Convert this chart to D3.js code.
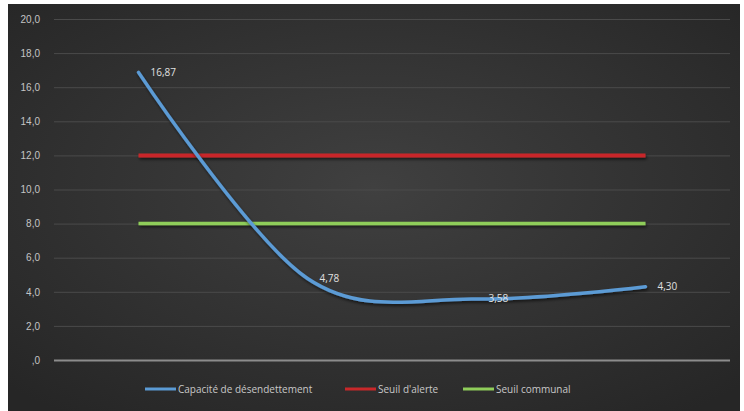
<!DOCTYPE html>
<html>
<head>
<meta charset="utf-8">
<script src="https://cdn.jsdelivr.net/npm/d3@7"></script>
<style>
  body { margin: 0; background: #fff; }
  svg { display: block; font-family: "Open Sans", "Liberation Sans", sans-serif; }
</style>
</head>
<body>
<svg id="chart" width="744" height="411"></svg>
<script>
const categories = ["Année 1", "Année 2", "Année 3", "Année 4"];
const capacite = [16.87, 4.78, 3.58, 4.30];
const seuilAlerte = [12, 12, 12, 12];
const seuilCommunal = [8, 8, 8, 8];
const yTicks = [0, 2, 4, 6, 8, 10, 12, 14, 16, 18, 20];
const seriesNames = ["Capacité de désendettement", "Seuil d'alerte", "Seuil communal"];
const seriesColors = ["#5b9bd5", "#c8282a", "#8fcd5a"];

const svg = d3.select("#chart");
const width = +svg.attr("width");
const height = +svg.attr("height");

// background
const defs = svg.append("defs");
const grad = defs.append("radialGradient")
    .attr("id", "bg")
    .attr("cx", "50%").attr("cy", "45%").attr("r", "70%");
grad.append("stop").attr("offset", "0%").attr("stop-color", "#404040");
grad.append("stop").attr("offset", "100%").attr("stop-color", "#262626");

// user space region so the flat lines keep their shadow
const shadow = defs.append("filter").attr("id", "shadow")
    .attr("filterUnits", "userSpaceOnUse")
    .attr("x", 0).attr("y", 0).attr("width", width).attr("height", height);
shadow.append("feDropShadow")
    .attr("dx", 1).attr("dy", 2).attr("stdDeviation", 1.5)
    .attr("flood-color", "#000").attr("flood-opacity", 0.6);

svg.append("rect")
    .attr("x", 8).attr("y", 4)
    .attr("width", width - 12).attr("height", height - 4)
    .attr("fill", "url(#bg)");

const margin = { top: 19, right: 14, bottom: 51, left: 54 };
const x = d3.scalePoint()
    .domain(categories)
    .range([margin.left, width - margin.right])
    .padding(0.5);

const y = d3.scaleLinear()
    .domain([0, 20])
    .range([height - margin.bottom, margin.top]);

const fmt = v => v === 0 ? ",0" : d3.format(".1f")(v).replace(".", ",");

// grid + y labels
const yAxis = svg.append("g")
    .attr("transform", `translate(${margin.left},0)`)
    .call(d3.axisLeft(y).tickValues(yTicks).tickFormat(fmt)
        .tickSize(-(width - margin.left - margin.right)).tickPadding(14));
yAxis.select(".domain").remove();
yAxis.selectAll(".tick line")
    .attr("stroke", d => d === 0 ? "#8c8c8c" : "#4a4a4a")
    .attr("stroke-width", d => d === 0 ? 2 : 1);
yAxis.selectAll(".tick text")
    .attr("fill", "#c4c4c4")
    .style("font-size", "10px");

const line = d3.line()
    .x((d, i) => x(categories[i]))
    .y(d => y(d));

const smooth = d3.line()
    .x((d, i) => x(categories[i]))
    .y(d => y(d))
    .curve(d3.curveCatmullRom.alpha(0));

svg.append("path")
    .datum(seuilAlerte)
    .attr("d", line)
    .attr("fill", "none")
    .attr("stroke", seriesColors[1])
    .attr("stroke-width", 4)
    .attr("filter", "url(#shadow)");

svg.append("path")
    .datum(seuilCommunal)
    .attr("d", line)
    .attr("fill", "none")
    .attr("stroke", seriesColors[2])
    .attr("stroke-width", 3.5)
    .attr("filter", "url(#shadow)");

svg.append("path")
    .datum(capacite)
    .attr("d", smooth)
    .attr("fill", "none")
    .attr("stroke", seriesColors[0])
    .attr("stroke-width", 3.5)
    .attr("stroke-linecap", "round")
    .attr("filter", "url(#shadow)");

// data labels
svg.selectAll(".dlabel")
    .data(capacite)
    .join("text")
    .attr("class", "dlabel")
    .attr("x", (d, i) => x(categories[i]) + 12)
    .attr("y", d => y(d) + 3.5)
    .attr("fill", "#e0e0e0")
    .style("font-size", "10px")
    .text(d => d3.format(".2f")(d).replace(".", ","));

// legend
const legendX = [145, 345, 463];
const legend = svg.append("g");
seriesNames.forEach((name, i) => {
    const g = legend.append("g").attr("transform", `translate(${legendX[i]},389)`);
    g.append("line")
        .attr("x1", 0).attr("x2", 31)
        .attr("stroke", seriesColors[i])
        .attr("stroke-width", 3);
    g.append("text")
        .attr("x", 33).attr("y", 3.5)
        .attr("fill", "#c8c8c8")
        .style("font-size", "10px")
        .text(name);
});
</script>
</body>
</html>
